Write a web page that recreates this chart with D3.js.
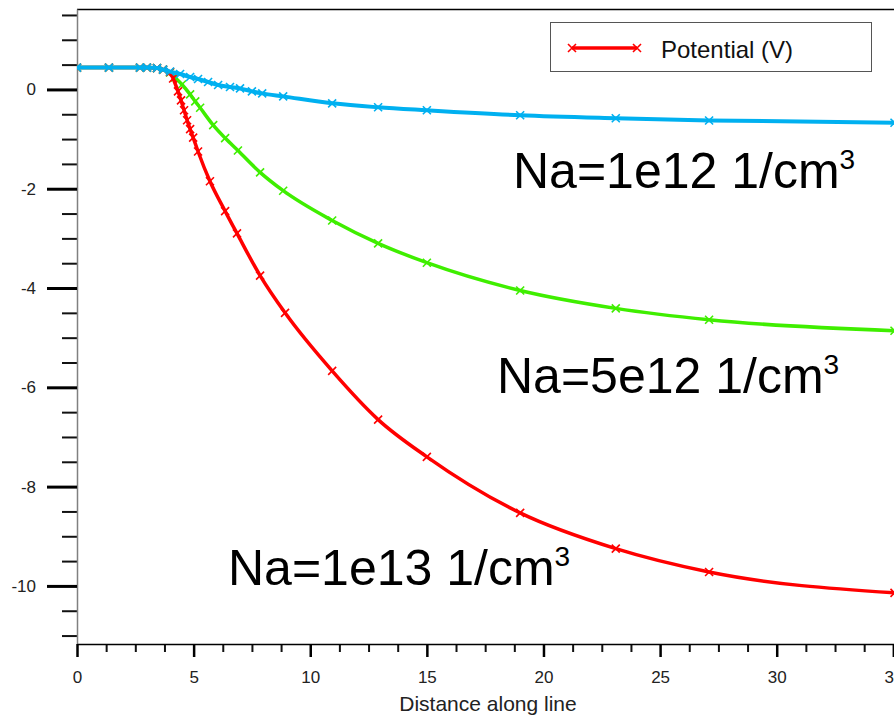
<!DOCTYPE html>
<html>
<head>
<meta charset="utf-8">
<script src="https://cdn.jsdelivr.net/npm/d3@7"></script>
<style>
  body { margin: 0; background: #fff; }
  text { font-family: "Liberation Sans", Arial, sans-serif; }
</style>
</head>
<body>
<div id="chart"></div>
<script>
"use strict";

// Distance along line (x) and potential in V (y), one pair of arrays per doping
var dist1e12 = [0, 1.37, 2.7, 3.0, 3.43, 3.69, 3.99, 4.42, 4.85, 5.19, 5.62, 6.05, 6.56, 6.99, 7.5, 7.94, 8.84, 10.94, 12.91, 15.0, 19.0, 23.1, 27.1, 35.05]
var pot1e12  = [0.44, 0.44, 0.44, 0.44, 0.43, 0.40, 0.36, 0.31, 0.25, 0.21, 0.15, 0.09, 0.05, 0.02, -0.04, -0.08, -0.14, -0.28, -0.36, -0.42, -0.52, -0.58, -0.625, -0.67]

var dist5e12 = [0, 1.37, 2.7, 3.0, 3.43, 3.69, 3.99, 4.2, 4.5, 4.85, 5.07, 5.28, 5.84, 6.35, 6.9, 7.85, 8.84, 10.94, 12.91, 15.0, 19.0, 23.1, 27.1, 35.05]
var pot5e12  = [0.44, 0.44, 0.44, 0.44, 0.43, 0.40, 0.34, 0.24, 0.1, -0.1, -0.24, -0.37, -0.72, -0.98, -1.23, -1.67, -2.04, -2.64, -3.1, -3.49, -4.05, -4.41, -4.64, -4.86]

var dist1e13 = [0, 1.37, 2.7, 3.0, 3.43, 3.69, 3.99, 4.12, 4.33, 4.46, 4.59, 4.72, 4.85, 4.98, 5.19, 5.7, 6.35, 6.86, 7.85, 8.92, 10.94, 12.91, 15.0, 19.0, 23.1, 27.1, 35.05]
var pot1e13  = [0.44, 0.44, 0.44, 0.44, 0.43, 0.40, 0.35, 0.22, -0.04, -0.22, -0.42, -0.62, -0.8, -0.97, -1.25, -1.85, -2.45, -2.9, -3.75, -4.5, -5.67, -6.65, -7.4, -8.53, -9.25, -9.72, -10.14]

var xMajor = [0, 5, 10, 15, 20, 25, 30, 35]
var yMajor = [0, -2, -4, -6, -8, -10]

var series = [
  {name: "Na=5e12", x: dist5e12, y: pot5e12, color: "#3fee00", w: 3.5},
  {name: "Na=1e13", x: dist1e13, y: pot1e13, color: "#ff0000", w: 3.5},
  {name: "Na=1e12", x: dist1e12, y: pot1e12, color: "#00b0f0", w: 4}
]

var width = 894,
    height = 715;

var svg = d3.select("#chart")
            .append("svg")
            .attr("width", width)
            .attr("height", height)

svg.append("rect").attr("width", width).attr("height", height).attr("fill", "#fff")

var x = d3.scaleLinear().domain([0, 35.2]).range([77, 898])
var y = d3.scaleLinear().domain([1.62, -11.17]).range([9, 644])

// minor ticks every 1.25 on x and 0.5 on y
var xMinor = d3.range(0, 36, 1.25).filter(function(v) { return v % 5 !== 0 })
var yMinor = d3.range(1.5, -11.01, -0.5).filter(function(v) { return v % 2 !== 0 })

// plain hyphen for negative labels, like the original
var fmt = function(v) { return String(v) }

// top frame line
svg.append("line")
   .attr("x1", x(0)).attr("x2", width)
   .attr("y1", 9.5).attr("y2", 9.5)
   .attr("stroke", "#000").attr("stroke-width", 1.5)

// y axis
var yMinorAxis = svg.append("g")
   .attr("transform", "translate(" + x(0) + ",0)")
   .call(d3.axisLeft(y).tickValues(yMinor).tickSize(15).tickFormat(""))
yMinorAxis.select(".domain").remove()
yMinorAxis.selectAll(".tick line").attr("stroke", "#111").attr("stroke-width", 2)

var yAxis = svg.append("g")
   .attr("transform", "translate(" + x(0) + ",0)")
   .call(d3.axisLeft(y).tickValues(yMajor).tickSize(30).tickSizeOuter(0).tickPadding(11).tickFormat(fmt))
yAxis.select(".domain").attr("stroke", "#808080").attr("stroke-width", 1.5)
yAxis.selectAll(".tick line").attr("stroke", "#000").attr("stroke-width", 3)
yAxis.selectAll(".tick text")
     .attr("font-size", 17).attr("fill", "#222")
     .style("font-family", "Liberation Sans, Arial, sans-serif")

// x axis
var xMinorAxis = svg.append("g")
   .attr("transform", "translate(0," + y.range()[1] + ")")
   .call(d3.axisBottom(x).tickValues(xMinor).tickSize(8).tickFormat(""))
xMinorAxis.select(".domain").remove()
xMinorAxis.selectAll(".tick line").attr("stroke", "#111").attr("stroke-width", 2)

var xAxis = svg.append("g")
   .attr("transform", "translate(0," + y.range()[1] + ")")
   .call(d3.axisBottom(x).tickValues(xMajor).tickSize(13).tickSizeOuter(0).tickPadding(14).tickFormat(fmt))
xAxis.select(".domain").attr("stroke", "#000").attr("stroke-width", 1.5)
xAxis.selectAll(".tick line").attr("stroke", "#000").attr("stroke-width", 2.5)
xAxis.selectAll(".tick text")
     .attr("font-size", 17).attr("fill", "#222")
     .style("font-family", "Liberation Sans, Arial, sans-serif")

svg.append("text")
   .attr("x", 488).attr("y", 711)
   .attr("text-anchor", "middle")
   .attr("font-size", 21).attr("fill", "#222")
   .text("Distance along line")

// curves
svg.append("clipPath").attr("id", "plotclip")
   .append("rect").attr("x", x(0)).attr("y", 10).attr("width", width - x(0)).attr("height", 634)

var plot = svg.append("g").attr("clip-path", "url(#plotclip)")

var line = d3.line()
   .x(function(d) { return x(d[0]) })
   .y(function(d) { return y(d[1]) })
   .curve(d3.curveMonotoneX)

function cross(sel, color) {
  sel.append("path")
     .attr("d", "M-4,-4L4,4M-4,4L4,-4")
     .attr("stroke", color)
     .attr("stroke-width", 1.6)
     .attr("fill", "none")
}

series.forEach(function(s) {
  var pts = s.x.map(function(v, i) { return [v, s.y[i]] })
  plot.append("path")
      .datum(pts)
      .attr("d", line)
      .attr("fill", "none")
      .attr("stroke", s.color)
      .attr("stroke-width", s.w)
  plot.selectAll(".m" + s.name.replace(/\W/g, ""))
      .data(pts)
      .enter()
      .append("g")
      .attr("transform", function(d) { return "translate(" + x(d[0]) + "," + y(d[1]) + ")" })
      .each(function() { cross(d3.select(this), s.color) })
})

// curve labels
var labels = [
  {text: "Na=1e12 1/cm", x: 513, y: 188},
  {text: "Na=5e12 1/cm", x: 497, y: 393},
  {text: "Na=1e13 1/cm", x: 228, y: 585}
]
labels.forEach(function(l) {
  var t = svg.append("text")
     .attr("x", l.x).attr("y", l.y)
     .attr("font-size", 50).attr("fill", "#000")
  t.append("tspan").text(l.text)
  t.append("tspan").attr("font-size", 28).attr("dy", -19).text("3")
})

// legend
var legend = svg.append("g")
legend.append("rect")
      .attr("x", 550.5).attr("y", 22.5).attr("width", 321).attr("height", 49)
      .attr("fill", "#fff").attr("stroke", "#555").attr("stroke-width", 1)
legend.append("line")
      .attr("x1", 572).attr("x2", 637).attr("y1", 48).attr("y2", 48)
      .attr("stroke", "#ff0000").attr("stroke-width", 3.5)
legend.selectAll(".lm").data([572, 637]).enter()
      .append("g").attr("transform", function(d) { return "translate(" + d + ",48)" })
      .each(function() { cross(d3.select(this), "#ff0000") })
legend.append("text")
      .attr("x", 661).attr("y", 58)
      .attr("font-size", 24).attr("fill", "#111")
      .text("Potential (V)")
</script>
</body>
</html>
